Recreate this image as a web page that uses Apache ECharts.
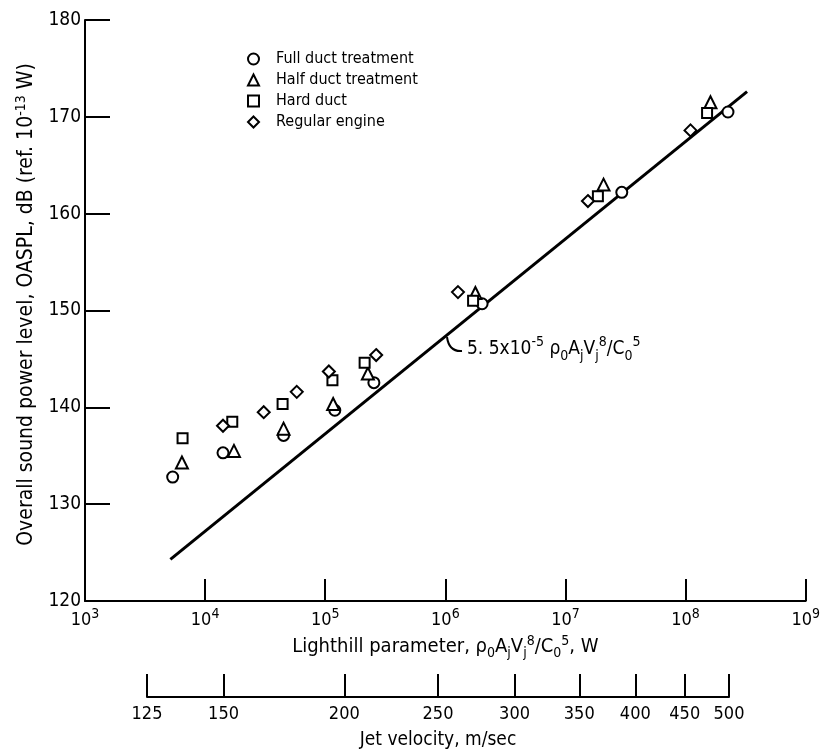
<!DOCTYPE html>
<html>
<head>
<meta charset="utf-8">
<script src="https://cdn.jsdelivr.net/npm/echarts@6/dist/echarts.min.js"></script>
<style>
	html,body{margin:0;padding:0;background:#fff;}
	#chart{width:823px;height:752px;}
</style>
</head>
<body>
<div id="chart"></div>
<script>
// Lighthill parameter (W) and OASPL (dB)
var fullDuct = [[5370,132.8],[14090,135.3],[44980,137.1],[120200,139.7],[254100,142.55],[2023000,150.7],[29440000,162.2],[225400000,170.5]]
var halfDuct = [[6410,134.3],[17380,135.5],[44980,137.8],[116400,140.35],[226500,143.5],[1778000,151.8],[20750000,163.0],[161100000,171.5]]
var hardDuct = [[6490,136.8],[16830,138.5],[44160,140.35],[114800,142.8],[212800,144.6],[1702000,151.0],[18620000,161.8],[151000000,170.4]]
var regularEngine = [[14090,138.1],[30760,139.5],[57940,141.6],[107200,143.7],[265500,145.4],[1274000,151.9],[15380000,161.3],[109900000,168.6]]
var fitLine = [[5140,124.3],[325000000,172.6]]   // 5.5x10^-5 rho0 Aj Vj^8 / C0^5
var seriesNames = ['Full duct treatment','Half duct treatment','Hard duct','Regular engine']
var velocityTicks = [125,150,200,250,300,350,400,450,500]

var FONT = '"Liberation Sans Narrow","DejaVu Sans Condensed","Liberation Sans",sans-serif'
function richSet(base,small,lh){
	return {
		sup:{fontSize:small,fontFamily:FONT,color:'#000',verticalAlign:'top',lineHeight:lh},
		sub:{fontSize:small,fontFamily:FONT,color:'#000',verticalAlign:'bottom',lineHeight:lh},
		base:{fontSize:base,fontFamily:FONT,color:'#000',verticalAlign:'middle',lineHeight:lh}
	}
}

function scatterSeries(name,data,symbol,size){
	return {
		name:name,
		type:'scatter',
		data:data,
		symbol:symbol,
		symbolSize:size,
		itemStyle:{color:'#fff',borderColor:'#000',borderWidth:2,opacity:1},
		z:3
	}
}

function drawChart(){
	var myChart = echarts.init(document.getElementById('chart'))
	var option = {
		backgroundColor:'#fff',
		animation:false,
		textStyle:{fontFamily:FONT,color:'#000'},
		legend:{
			orient:'vertical',
			left:242,
			top:46,
			itemWidth:11,
			itemHeight:11,
			itemGap:5,
			data:seriesNames,
			textStyle:{fontSize:16,fontFamily:FONT,color:'#000',padding:[0,0,0,12]}
		},
		grid:[
			{left:85,right:12,top:20,bottom:151},
			{left:147,right:94,top:600,bottom:55}
		],
		xAxis:[{
			gridIndex:0,
			type:'log',
			logBase:10,
			min:1e3,
			max:1e9,
			splitNumber:6,
			name:'{base|Lighthill parameter, ρ}{sub|0}{base|A}{sub|j}{base|V}{sub|j}{sup|8}{base|/C}{sub|0}{sup|5}{base|, W}',
			nameLocation:'middle',
			nameGap:33,
			nameTextStyle:{rich:richSet(20,14,26)},
			axisLine:{lineStyle:{color:'#000',width:2}},
			axisTick:{inside:true,length:22,lineStyle:{color:'#000',width:2}},
			splitLine:{show:false},
			axisLabel:{
				margin:6,
				color:'#000',
				rich:richSet(18,14,26),
				formatter:function(v){
					return '{base|10}{sup|'+Math.round(Math.log10(v))+'}'
				}
			}
		},{
			gridIndex:1,
			type:'log',
			logBase:10,
			min:125,
			max:500,
			name:'Jet velocity, m/sec',
			nameLocation:'middle',
			nameGap:34,
			nameTextStyle:{fontSize:19,fontFamily:FONT,color:'#000'},
			axisLine:{lineStyle:{color:'#000',width:2}},
			axisTick:{inside:true,length:23,customValues:velocityTicks,lineStyle:{color:'#000',width:2}},
			splitLine:{show:false},
			axisLabel:{margin:8,fontSize:18,fontFamily:FONT,color:'#000',customValues:velocityTicks,showMinLabel:true,showMaxLabel:true}
		}],
		yAxis:[{
			gridIndex:0,
			type:'value',
			min:120,
			max:180,
			interval:10,
			name:'{base|Overall sound power level, OASPL, dB (ref. 10}{sup|-13}{base| W)}',
			nameLocation:'middle',
			nameGap:40,
			nameRotate:90,
			nameTextStyle:{rich:richSet(21,14,26),padding:[0,0,0,12]},
			axisLine:{lineStyle:{color:'#000',width:2}},
			axisTick:{inside:true,length:25,lineStyle:{color:'#000',width:2}},
			splitLine:{show:false},
			axisLabel:{margin:4,fontSize:19,fontFamily:FONT,color:'#000'}
		},{
			gridIndex:1,
			type:'value',
			show:false
		}],
		series:[{
			name:'fit',
			type:'line',
			data:fitLine,
			symbol:'none',
			lineStyle:{color:'#000',width:3},
			z:2
		},
		scatterSeries(seriesNames[0],fullDuct,'circle',11),
		scatterSeries(seriesNames[1],halfDuct,'triangle',12),
		scatterSeries(seriesNames[2],hardDuct,'rect',10),
		scatterSeries(seriesNames[3],regularEngine,'diamond',12)
		],
		graphic:[{
			type:'bezierCurve',
			shape:{x1:447,y1:337,cpx1:449,cpy1:352,x2:462,y2:351},
			style:{stroke:'#000',lineWidth:2,fill:null}
		},{
			type:'text',
			left:467,
			top:335,
			style:{
				text:'{base|5. 5x10}{sup|-5}{base| ρ}{sub|0}{base|A}{sub|j}{base|V}{sub|j}{sup|8}{base|/C}{sub|0}{sup|5}',
				rich:richSet(19,14,28)
			}
		}]
	}
	myChart.setOption(option)
}
drawChart()
</script>
</body>
</html>
